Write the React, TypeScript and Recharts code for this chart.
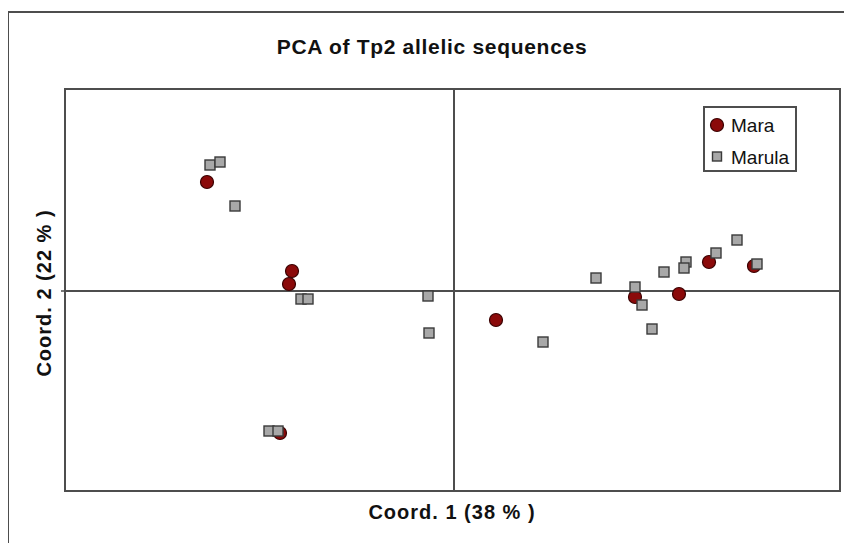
import React from 'react';
import { ScatterChart, Scatter, XAxis, YAxis, ReferenceLine, ReferenceArea } from 'recharts';

// PCA coordinates (Coord. 1, Coord. 2)
const maraX = [-2.47, -1.62, -1.65, -1.74, 0.42, 1.81, 2.25, 2.55, 3.0];
const maraY = [1.09, 0.2, 0.07, -1.42, -0.29, -0.06, -0.03, 0.29, 0.25];

const marulaX = [-2.44, -2.34, -2.19, -1.53, -1.46, -1.85, -1.76, -0.26, -0.25, 0.89, 1.42, 1.81, 1.88, 1.98, 2.1, 2.32, 2.3, 2.62, 2.83, 3.03];
const marulaY = [1.26, 1.29, 0.85, -0.08, -0.08, -1.4, -1.4, -0.05, -0.42, -0.51, 0.13, 0.04, -0.14, -0.38, 0.19, 0.29, 0.23, 0.38, 0.51, 0.27];

const xDomain: [number, number] = [-3.89, 3.86];
const yDomain: [number, number] = [-2.0, 2.02];

const title = 'PCA of Tp2 allelic sequences';
const xLabel = 'Coord. 1 (38 % )';
const yLabel = 'Coord. 2 (22 % )';
const seriesNames = ['Mara', 'Marula'];

const maraData = maraX.map((x, i) => ({ x, y: maraY[i] }));
const marulaData = marulaX.map((x, i) => ({ x, y: marulaY[i] }));

const RED = '#8b0a0a';
const GREY = '#a8a8a8';
const LINE = '#4d4d4d';
const FONT = '"Liberation Sans", Arial, sans-serif';

const CircleDot = (props: any) => (
    <circle cx={props.cx} cy={props.cy} r={6.5} fill={RED} stroke="#3a0000" strokeWidth={1.2} />
);

const SquareDot = (props: any) => (
    <rect x={props.cx - 5} y={props.cy - 5} width={10} height={10} fill={GREY} stroke="#3a3a3a" strokeWidth={1.4} />
);

export default function App() {
    return (
        // fixed so it never makes the page scroll
        <div style={{ position: 'fixed', left: 8, top: 8, width: 836, height: 535, overflow: 'hidden', fontFamily: FONT, background: '#fff' }}>
            {/* outer frame */}
            <div style={{ position: 'absolute', left: -1, top: 3, width: 900, height: 600, borderLeft: `2px solid ${LINE}`, borderTop: `2px solid ${LINE}` }} />

            <ScatterChart width={836} height={535} margin={{ top: 81, right: 4, bottom: 52, left: 57 }}>
                <XAxis type="number" dataKey="x" domain={xDomain} hide allowDataOverflow />
                <YAxis type="number" dataKey="y" domain={yDomain} hide allowDataOverflow />
                <ReferenceArea x1={xDomain[0]} x2={xDomain[1]} y1={yDomain[0]} y2={yDomain[1]} fill="none" stroke={LINE} strokeWidth={2} fillOpacity={0} />
                <ReferenceLine x={0} stroke={LINE} strokeWidth={2} />
                <ReferenceLine y={0} stroke={LINE} strokeWidth={2} />
                <ReferenceLine
                    segment={[{ x: xDomain[0] - 0.04, y: 0 }, { x: xDomain[0], y: 0 }]}
                    stroke={LINE}
                    strokeWidth={1.5}
                    ifOverflow="visible"
                />
                <Scatter name={seriesNames[0]} data={maraData} shape={CircleDot} isAnimationActive={false} />
                <Scatter name={seriesNames[1]} data={marulaData} shape={SquareDot} isAnimationActive={false} />
            </ScatterChart>

            {/* title */}
            <div style={{ position: 'absolute', left: 424, top: 38, transform: 'translate(-50%, -50%)', fontSize: 21, fontWeight: 700, letterSpacing: 0.7, lineHeight: 1, whiteSpace: 'nowrap', color: '#111' }}>
                {title}
            </div>
            {/* x label */}
            <div style={{ position: 'absolute', left: 444, top: 504, transform: 'translate(-50%, -50%)', fontSize: 20, fontWeight: 700, letterSpacing: 1, lineHeight: 1, whiteSpace: 'nowrap', color: '#111' }}>
                {xLabel}
            </div>
            {/* y label */}
            <div style={{ position: 'absolute', left: 36, top: 285, transform: 'translate(-50%, -50%) rotate(-90deg)', fontSize: 20, fontWeight: 700, letterSpacing: 1, lineHeight: 1, whiteSpace: 'nowrap', color: '#111' }}>
                {yLabel}
            </div>

            {/* legend */}
            <div style={{ position: 'absolute', left: 695, top: 98, width: 90, height: 62, border: `2px solid ${LINE}`, background: '#fff' }}>
                <svg width={28} height={62} style={{ position: 'absolute', left: 0, top: 0 }}>
                    <circle cx={12} cy={17} r={6.5} fill={RED} stroke="#3a0000" strokeWidth={1.2} />
                    <rect x={7.5} y={44} width={9} height={9} fill={GREY} stroke="#3a3a3a" strokeWidth={1.4} />
                </svg>
                <div style={{ position: 'absolute', left: 26, top: 17, transform: 'translateY(-50%)', fontSize: 19, lineHeight: 1, color: '#111' }}>{seriesNames[0]}</div>
                <div style={{ position: 'absolute', left: 26, top: 49, transform: 'translateY(-50%)', fontSize: 19, lineHeight: 1, color: '#111' }}>{seriesNames[1]}</div>
            </div>
        </div>
    );
}
